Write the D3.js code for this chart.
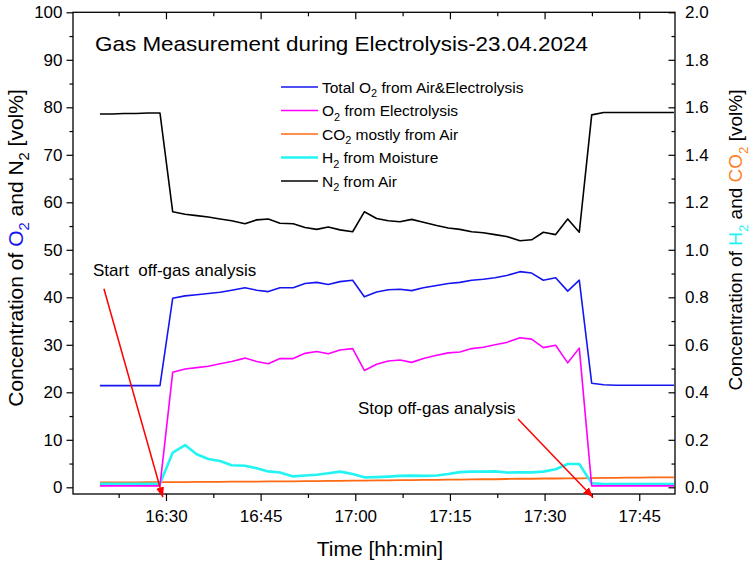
<!DOCTYPE html>
<html><head><meta charset="utf-8">
<script src="https://cdn.jsdelivr.net/npm/d3@7"></script>
<style>body{margin:0;background:#fff} svg{display:block} text{font-family:Arial,"Liberation Sans",sans-serif;fill:#000}</style>
</head><body><svg id="c" width="751" height="563"></svg>
<script>
// ---- data ----
const times = ["16:19:32","16:21:27","16:23:21","16:25:15","16:27:09","16:29:03","16:31:04","16:33:01","16:34:52","16:36:42",
"16:38:34","16:40:25","16:42:31","16:44:22","16:46:13","16:48:04","16:50:10","16:52:02","16:53:53","16:55:43",
"16:57:35","16:59:35","17:01:26","17:03:23","17:05:14","17:07:05","17:08:56","17:10:47","17:12:54","17:14:44",
"17:16:35","17:18:27","17:20:17","17:22:08","17:23:59","17:26:06","17:27:57","17:29:48","17:31:45","17:33:40",
"17:35:30","17:37:28","17:39:22","17:41:16","17:43:10","17:45:04","17:46:58","17:48:52","17:50:30"];
const totalO2 = [21.4,21.4,21.4,21.4,21.4,21.4,39.8,40.3,40.55,40.8,
41.05,41.5,42.0,41.5,41.2,42.0,42.0,42.9,43.15,42.7,
43.3,43.6,40.1,41.1,41.6,41.7,41.4,42.0,42.5,42.9,
43.15,43.6,43.8,44.1,44.6,45.4,45.1,43.6,44.1,41.3,
43.6,21.9,21.6,21.5,21.5,21.5,21.5,21.5,21.5];
const o2Electrolysis = [0.3,0.3,0.3,0.3,0.3,0.3,24.2,24.9,25.2,25.5,
26.0,26.5,27.2,26.5,26.0,27.1,27.1,28.2,28.6,28.1,
28.9,29.2,24.6,25.9,26.6,26.8,26.3,27.1,27.8,28.3,
28.5,29.2,29.5,30.0,30.5,31.5,31.2,29.4,29.9,26.2,
29.3,0.3,0.3,0.3,0.3,0.3,0.3,0.3,0.3];
const co2 = [0.021,0.021,0.021,0.021,0.022,0.022,0.022,0.022,0.023,0.023,
0.023,0.024,0.024,0.024,0.025,0.025,0.025,0.026,0.026,0.027,
0.027,0.028,0.028,0.029,0.029,0.030,0.030,0.031,0.031,0.032,
0.032,0.033,0.034,0.034,0.035,0.036,0.036,0.037,0.037,0.038,
0.038,0.039,0.040,0.040,0.041,0.041,0.042,0.042,0.042];
const h2 = [0.015,0.015,0.015,0.015,0.015,0.015,0.146,0.178,0.139,0.119,
0.111,0.093,0.091,0.080,0.067,0.062,0.046,0.050,0.053,0.059,
0.066,0.056,0.042,0.043,0.045,0.048,0.049,0.048,0.050,0.056,
0.064,0.066,0.066,0.067,0.062,0.063,0.063,0.066,0.076,0.098,
0.098,0.017,0.014,0.014,0.014,0.014,0.014,0.014,0.014];
const n2 = [78.6,78.6,78.7,78.7,78.8,78.8,58.0,57.5,57.2,56.9,
56.5,56.1,55.5,56.3,56.5,55.6,55.5,54.7,54.3,54.8,
54.2,53.8,58.0,56.6,56.1,55.9,56.4,55.8,55.1,54.6,
54.3,53.8,53.6,53.2,52.8,51.9,52.1,53.7,53.2,56.5,
53.7,78.4,78.9,78.9,78.9,78.9,78.9,78.9,78.9];
const leftTicks = [0,10,20,30,40,50,60,70,80,90,100];
const rightTicks = [0.0,0.2,0.4,0.6,0.8,1.0,1.2,1.4,1.6,1.8,2.0];
const timeTicks = ["16:30","16:45","17:00","17:15","17:30","17:45"];

// ---- layout ----
const svg = d3.select("#c");
const day = "2024-04-23T";
const parseT = s => new Date(day + (s.length === 5 ? s + ":00" : s));
const X0 = 73, X1 = 675, Y0 = 494, Y1 = 12.3;
const x = d3.scaleTime().domain([parseT("16:15:16"), parseT("17:50:40")]).range([X0, X1]);
const yL = d3.scaleLinear().domain([-1.41, 100]).range([Y0, Y1]);
const yR = d3.scaleLinear().domain([-0.0282, 2.0]).range([Y0, Y1]);
const T = times.map(parseT);

// frame
svg.append("rect").attr("x", X0).attr("y", Y1).attr("width", X1 - X0).attr("height", Y0 - Y1)
  .attr("fill", "none").attr("stroke", "#000").attr("stroke-width", 1.3);

function styleAxis(g, fs) {
  g.select(".domain").remove();
  g.selectAll(".tick line").attr("stroke", "#000").attr("stroke-width", 1.2);
  g.selectAll(".tick text").style("font-size", fs + "px").attr("fill", "#000");
}
// left axis
const minorL = d3.range(5, 100, 10);
svg.append("g").attr("transform", `translate(${X0},0)`)
  .call(d3.axisLeft(yL).tickValues(minorL).tickSize(3.5).tickFormat(""))
  .call(g => styleAxis(g, 17));
svg.append("g").attr("transform", `translate(${X0},0)`)
  .call(d3.axisLeft(yL).tickValues(leftTicks).tickSize(6.5).tickPadding(4).tickFormat(d3.format("d")))
  .call(g => styleAxis(g, 17));
// right axis (ticks inward)
const minorR = d3.range(0.1, 2.0, 0.2);
svg.append("g").attr("transform", `translate(${X1},0)`)
  .call(d3.axisRight(yR).tickValues(minorR).tickSize(-3.5).tickFormat(""))
  .call(g => styleAxis(g, 17));
svg.append("g").attr("transform", `translate(${X1},0)`)
  .call(d3.axisRight(yR).tickValues(rightTicks).tickSize(-6.5).tickPadding(10).tickFormat(d3.format(".1f")))
  .call(g => styleAxis(g, 17));
// bottom axis
const tickDates = timeTicks.map(parseT);
const minorDates = ["16:22:30","16:37:30","16:52:30","17:07:30","17:22:30","17:37:30"].map(parseT);
svg.append("g").attr("transform", `translate(0,${Y0})`)
  .call(d3.axisBottom(x).tickValues(minorDates).tickSize(4).tickFormat(""))
  .call(g => styleAxis(g, 17));
svg.append("g").attr("transform", `translate(0,${Y0})`)
  .call(d3.axisBottom(x).tickValues(tickDates).tickSize(7).tickPadding(9).tickFormat(d3.timeFormat("%H:%M")))
  .call(g => styleAxis(g, 17));
// top axis (inward)
svg.append("g").attr("transform", `translate(0,${Y1})`)
  .call(d3.axisTop(x).tickValues(minorDates).tickSize(-4).tickFormat(""))
  .call(g => styleAxis(g, 17));
svg.append("g").attr("transform", `translate(0,${Y1})`)
  .call(d3.axisTop(x).tickValues(tickDates).tickSize(-7).tickFormat(""))
  .call(g => styleAxis(g, 17));

// ---- series ----
svg.append("clipPath").attr("id", "pc").append("rect")
  .attr("x", X0).attr("y", Y1).attr("width", X1 - X0).attr("height", Y0 - Y1);
const plot = svg.append("g").attr("clip-path", "url(#pc)");
function drawLine(vals, yS, color, w) {
  plot.append("path").datum(vals.map((v, i) => [T[i], v]))
    .attr("fill", "none").attr("stroke", color).attr("stroke-width", w)
    .attr("stroke-linejoin", "round")
    .attr("d", d3.line().x(d => x(d[0])).y(d => yS(d[1])));
}
const C = {blue: "#1515f0", mag: "#ff00ff", orange: "#ff6a13", cyan: "#22f4f4", black: "#000"};
drawLine(co2, yR, C.orange, 1.8);
drawLine(h2, yR, C.cyan, 2.6);
drawLine(o2Electrolysis, yL, C.mag, 1.6);
drawLine(totalO2, yL, C.blue, 1.6);
drawLine(n2, yL, C.black, 1.6);

// ---- rich text helper (subscripts via dy on tspans) ----
function rich(g, parts, fs) {
  const t = g.append("text").style("font-size", fs + "px");
  let shifted = false;
  parts.forEach(p => {
    const s = t.append("tspan").text(p.t).attr("fill", p.c || "#000");
    if (p.sub) {
      s.attr("dy", fs * 0.3).style("font-size", (fs * 0.7) + "px");
      shifted = true;
    } else if (shifted) {
      s.attr("dy", -fs * 0.3);
      shifted = false;
    }
  });
  return t;
}

// title
svg.append("text").attr("x", 95).attr("y", 51).style("font-size", "21px")
  .attr("textLength", 493).attr("lengthAdjust", "spacingAndGlyphs")
  .text("Gas Measurement during Electrolysis-23.04.2024");

// legend
const legendItems = [
  {color: C.blue, parts: [{t: "Total O"}, {t: "2", sub: 1}, {t: " from Air&Electrolysis"}]},
  {color: C.mag, parts: [{t: "O"}, {t: "2", sub: 1}, {t: " from Electrolysis"}]},
  {color: C.orange, parts: [{t: "CO"}, {t: "2", sub: 1}, {t: " mostly from Air"}]},
  {color: C.cyan, parts: [{t: "H"}, {t: "2", sub: 1}, {t: " from Moisture"}]},
  {color: C.black, parts: [{t: "N"}, {t: "2", sub: 1}, {t: " from Air"}]}
];
legendItems.forEach((it, i) => {
  const cy = 87 + i * 23.5;
  svg.append("line").attr("x1", 281).attr("x2", 318).attr("y1", cy).attr("y2", cy)
    .attr("stroke", it.color).attr("stroke-width", it.color === C.cyan ? 2.4 : 1.6);
  const g = svg.append("g").attr("transform", `translate(322,${cy + 5.5})`);
  rich(g, it.parts, 15.5);
});

// axis titles
const gl = svg.append("g").attr("transform", "translate(23,248) rotate(-90)");
rich(gl, [{t: "Concentration of "}, {t: "O", c: "#1515f0"}, {t: "2", sub: 1, c: "#1515f0"}, {t: " and N"}, {t: "2", sub: 1}, {t: " [vol%]"}], 21)
  .attr("text-anchor", "middle");
const gr = svg.append("g").attr("transform", "translate(742,240) rotate(-90)");
rich(gr, [{t: "Concentration of "}, {t: "H", c: "#22f4f4"}, {t: "2", sub: 1, c: "#22f4f4"}, {t: " and "}, {t: "CO", c: "#ff7f27"}, {t: "2", sub: 1, c: "#ff7f27"}, {t: " [vol%]"}], 19)
  .attr("text-anchor", "middle");
svg.append("text").attr("x", 380).attr("y", 556).attr("text-anchor", "middle").style("font-size", "21px")
  .text("Time [hh:min]");

// annotations
const defs = svg.append("defs");
defs.append("marker").attr("id", "ah").attr("viewBox", "0 0 10 10").attr("refX", 10).attr("refY", 5)
  .attr("markerWidth", 10).attr("markerHeight", 10).attr("markerUnits", "userSpaceOnUse").attr("orient", "auto")
  .append("path").attr("d", "M0,1 L10,5 L0,9 Z").attr("fill", "#ff0000");
svg.append("text").attr("x", 93).attr("y", 276).style("font-size", "17px").style("white-space", "pre")
  .text("Start  off-gas analysis");
svg.append("line").attr("x1", x(parseT("16:20:10"))).attr("y1", yL(41.8))
  .attr("x2", x(parseT("16:29:30"))).attr("y2", yL(-2.1))
  .attr("stroke", "#ff0000").attr("stroke-width", 1.5).attr("marker-end", "url(#ah)");
svg.append("text").attr("x", 358).attr("y", 414).style("font-size", "17px").text("Stop off-gas analysis");
svg.append("line").attr("x1", x(parseT("17:25:47"))).attr("y1", yL(14.4))
  .attr("x2", x(parseT("17:37:40"))).attr("y2", yL(-2.1))
  .attr("stroke", "#ff0000").attr("stroke-width", 1.5).attr("marker-end", "url(#ah)");
</script>
</body></html>
